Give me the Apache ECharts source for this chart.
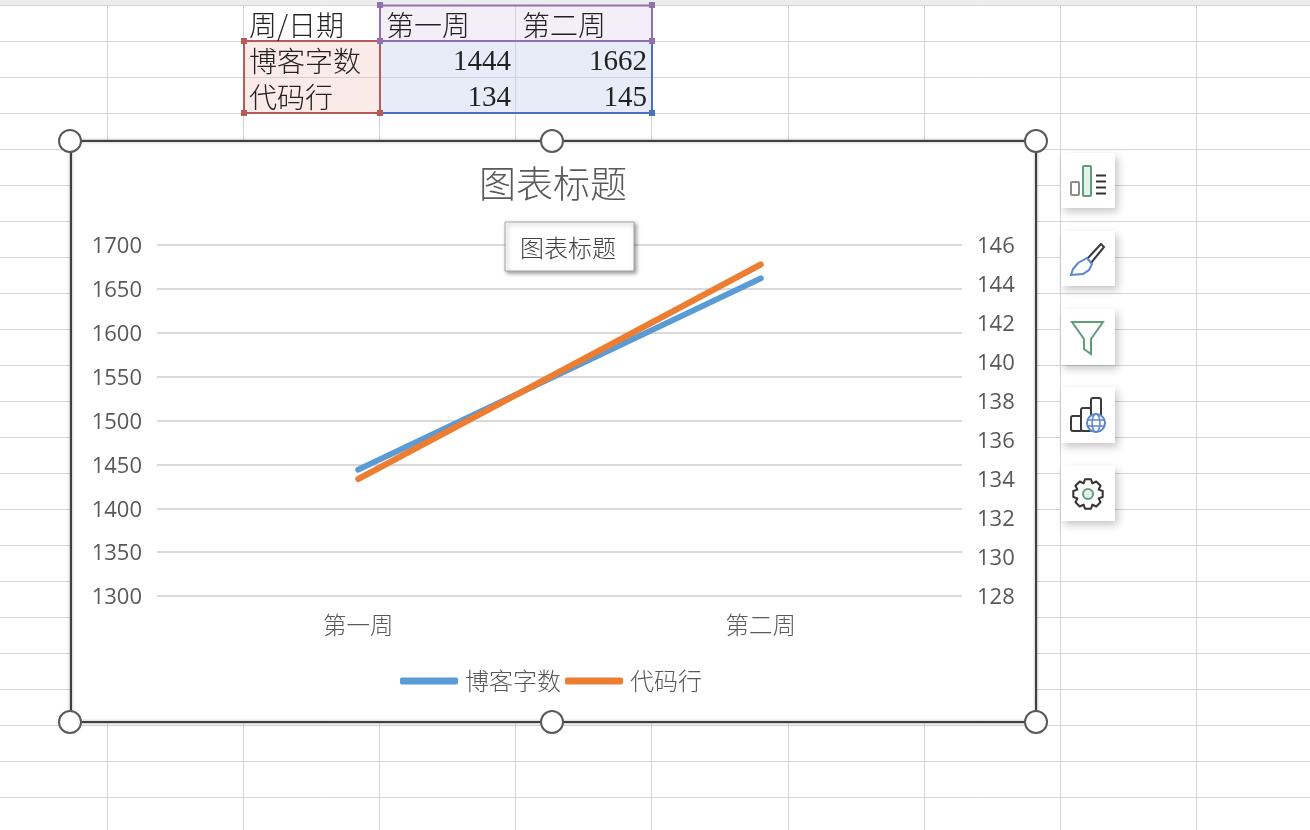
<!DOCTYPE html>
<html><head><meta charset="utf-8">
<style>html,body{margin:0;padding:0;background:#fff}#c{width:1310px;height:830px}</style>
<script src="https://cdn.jsdelivr.net/npm/echarts@6/dist/echarts.min.js"></script>
</head><body><div id="c"></div>
<script>
const weeks = ['第一周', '第二周'];
const blogWords = [1444, 1662];
const codeLines = [134, 145];
const seriesNames = ['博客字数', '代码行'];
const headerLabel = '周/日期';
const titleText = '图表标题';

const CJK = '"Noto Sans CJK SC","Noto Sans",sans-serif';
const g = [];
const line = (x1,y1,x2,y2,stroke,w,z) => g.push({type:'line',z:z??-10,silent:true,shape:{x1,y1,x2,y2},style:{stroke,lineWidth:w}});
const rect = (x,y,width,height,style,z,r) => g.push({type:'rect',z:z??-9,silent:true,shape:{x,y,width,height,r:r||0},style});
const text = (x,y,t,font,fill,align,z) => g.push({type:'text',z:z??-5,silent:true,x,y,style:{text:t,font,fill,align:align||'left',verticalAlign:'middle'}});
const poly = (points,style,z) => g.push({type:'polygon',z:z??6,silent:true,shape:{points},style});

// sheet
rect(0,0,1310,5,{fill:'#EDEDED'},-10);
[107,243,379,515,651,788,924,1060,1196].forEach(x=>line(x+.5,5,x+.5,830,'#D4D4D4',1));
for(let y=5;y<830;y+=36) line(0,y+.5,1310,y+.5,'#D4D4D4',1);

// table fills
rect(380,6,272,35,{fill:'#F3EEF7'});
rect(244,42,136,71,{fill:'#FAEBE9'});
rect(380,42,272,71,{fill:'#E8ECF9'});
line(515.5,6,515.5,113,'#D2D2DC',1,-8);
line(244,77.5,652,77.5,'#D2D2DC',1,-8);
// range borders
const pur='#9270AE',red='#B85A58',blu='#4B6FC4';
rect(380,5.5,272,35.5,{fill:null,stroke:pur,lineWidth:2},-7);
rect(244,41,136,72,{fill:null,stroke:red,lineWidth:2},-7);
line(652,41,652,113,blu,2,-7); line(380,113,652,113,blu,2,-7);
[[380,5,pur],[652,5,pur],[380,41,pur],[652,41,pur],[244,41,red],[244,113,red],[380,113,red],[652,113,blu]]
  .forEach(([x,y,c])=>rect(x-3,y-3,6,6,{fill:c},-6));
// table text
const cell='300 28px '+CJK, num='29px "Liberation Serif",serif', ink='#222';
text(249,25,headerLabel,cell,ink);
weeks.forEach((w,i)=>text(386+i*136,25,w,cell,ink));
seriesNames.forEach((n,r)=>text(249,61+r*36,n,cell,ink));
[blogWords,codeLines].forEach((arr,r)=>arr.forEach((v,i)=>text(511+i*136,62+r*36,String(v),num,ink,'right')));

// chart frame
rect(71,141,965,581,{fill:'#fff',stroke:'#404040',lineWidth:2,shadowBlur:3,shadowColor:'rgba(0,0,0,.35)'},-3);
[[70,141],[552,141],[1036,141],[70,722],[552,722],[1036,722]].forEach(([cx,cy])=>
  g.push({type:'circle',z:8,silent:true,shape:{cx,cy,r:11},style:{fill:'#fff',stroke:'#595959',lineWidth:2}}));
text(553,184,titleText,'300 37px '+CJK,'#595959','center',3);

// hover tip box
rect(505,222,129,49,{fill:'#fff',stroke:'#A6A6A6',lineWidth:1,shadowBlur:4,shadowOffsetX:2,shadowOffsetY:2,shadowColor:'rgba(0,0,0,.4)'},20);
text(568,248,titleText,'300 24px '+CJK,'#404040','center',21);

// side buttons
[[153,55],[231,55],[309,56],[387,56],[466,55]].forEach(([y,h])=>
  rect(1061,y,54,h,{fill:'#fff',shadowBlur:8,shadowOffsetX:3,shadowOffsetY:4,shadowColor:'rgba(0,0,0,.22)'},5));
// button 1: chart elements
rect(1071,182,8,13,{fill:'#fff',stroke:'#8C8C8C',lineWidth:2},6,1);
rect(1083,166,8,30,{fill:'#E6F2E9',stroke:'#5F9E7C',lineWidth:2},6,1);
[176,182,188,194].forEach(y=>line(1096,y-.5,1106,y-.5,'#333',2,6));
// button 2: brush
poly([[1101,244],[1104,247],[1091,263],[1087,259]],{fill:'#fff',stroke:'#3A3A3A',lineWidth:2});
poly([[1087,258],[1092,264],[1089,270],[1083,274],[1071,275],[1073,269],[1078,263]],{fill:'#fff',stroke:'#5B84D0',lineWidth:2});
// button 3: filter
poly([[1072,322],[1103,322],[1091,339],[1091,354],[1084,349],[1084,339]],{fill:'#fff',stroke:'#5F9E7C',lineWidth:2});
// button 4: region chart
rect(1071,416,11,15,{fill:'#fff',stroke:'#3A3A3A',lineWidth:2},6,2);
rect(1081,408,10,23,{fill:'#fff',stroke:'#3A3A3A',lineWidth:2},6,2);
rect(1091,398,10,33,{fill:'#fff',stroke:'#3A3A3A',lineWidth:2},6,2);
g.push({type:'circle',z:7,silent:true,shape:{cx:1096,cy:423,r:9},style:{fill:'#fff',stroke:'#5B84D0',lineWidth:2}});
g.push({type:'ellipse',z:7,silent:true,shape:{cx:1096,cy:423,rx:4,ry:9},style:{fill:'none',stroke:'#5B84D0',lineWidth:1.5}});
line(1087,420,1105,420,'#5B84D0',1.5,7); line(1087,426,1105,426,'#5B84D0',1.5,7);
// button 5: gear
const gear=[];
for(let i=0;i<8;i++){const a=i*Math.PI/4;
  const p=(r,t)=>[1088+r*Math.cos(t),494+r*Math.sin(t)];
  gear.push(p(11.5,a-.39),p(15,a-.2),p(15,a+.2),p(11.5,a+.39));}
poly(gear,{fill:'#fff',stroke:'#333',lineWidth:2,lineJoin:'round'});
g.push({type:'circle',z:7,silent:true,shape:{cx:1088,cy:494,r:5},style:{fill:'#E6F2E9',stroke:'#5F9E7C',lineWidth:2}});

const tickFont = {color:'#595959',fontSize:22,fontFamily:'"Open Sans","Noto Sans",sans-serif'};
const axisLabel = {margin:15,formatter:v=>'{a|'+v+'}',rich:{a:Object.assign({padding:[4,0,0,0]},tickFont)}};
const chart = echarts.init(document.getElementById('c'),null,{renderer:'canvas',width:1310,height:830});
chart.setOption({
  animation:false,
  backgroundColor:'#fff',
  graphic:{elements:g},
  grid:{left:157,right:348,top:245,bottom:234,containLabel:false},
  legend:{
    left:395,top:664,itemWidth:58,itemHeight:7,itemGap:4,
    data:seriesNames.map(n=>({name:n,icon:'roundRect'})),
    textStyle:{color:'#595959',fontSize:24,fontFamily:CJK,fontWeight:300,padding:[0,0,0,2]},
    selectedMode:false
  },
  xAxis:{
    type:'category',data:weeks,boundaryGap:true,
    axisLine:{show:false},axisTick:{show:false},
    axisLabel:{color:'#595959',fontSize:23.5,fontFamily:CJK,fontWeight:300,margin:17}
  },
  yAxis:[
    {type:'value',min:1300,max:1700,interval:50,
      axisLine:{show:false},axisTick:{show:false},
      axisLabel:axisLabel,
      splitLine:{lineStyle:{color:'#D9D9D9',width:2}}},
    {type:'value',min:128,max:146,interval:2,position:'right',
      axisLine:{show:false},axisTick:{show:false},
      axisLabel:axisLabel,
      splitLine:{show:false}}
  ],
  series:[
    {name:seriesNames[0],type:'line',data:blogWords,yAxisIndex:0,symbol:'none',
      itemStyle:{color:'#5B9BD5'},lineStyle:{color:'#5B9BD5',width:6,cap:'round'}},
    {name:seriesNames[1],type:'line',data:codeLines,yAxisIndex:1,symbol:'none',
      itemStyle:{color:'#ED7D31'},lineStyle:{color:'#ED7D31',width:6,cap:'round'}}
  ]
});
</script></body></html>
